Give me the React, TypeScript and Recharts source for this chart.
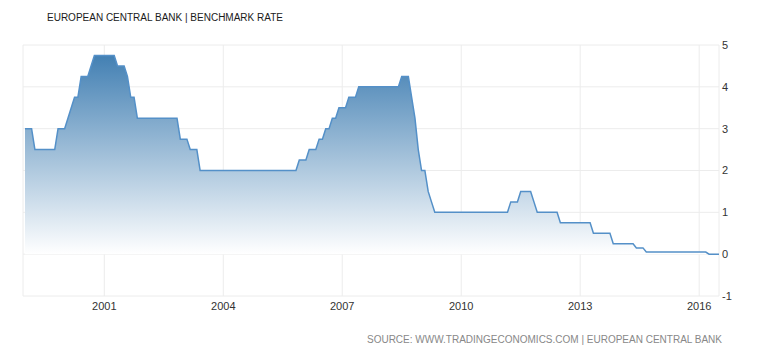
import React from "react";
import { AreaChart, Area, XAxis, YAxis, CartesianGrid } from "recharts";

// End-of-month ECB main refinancing rate (%), one array per year, Jan..Dec
const startYear = 1999;
const rates1999 = [3, 3, 3, 2.5, 2.5, 2.5, 2.5, 2.5, 2.5, 2.5, 3, 3];
const rates2000 = [3, 3.25, 3.5, 3.75, 3.75, 4.25, 4.25, 4.25, 4.5, 4.75, 4.75, 4.75];
const rates2001 = [4.75, 4.75, 4.75, 4.75, 4.5, 4.5, 4.5, 4.25, 3.75, 3.75, 3.25, 3.25];
const rates2002 = [3.25, 3.25, 3.25, 3.25, 3.25, 3.25, 3.25, 3.25, 3.25, 3.25, 3.25, 2.75];
const rates2003 = [2.75, 2.75, 2.5, 2.5, 2.5, 2, 2, 2, 2, 2, 2, 2];
const rates2004 = [2, 2, 2, 2, 2, 2, 2, 2, 2, 2, 2, 2];
const rates2005 = [2, 2, 2, 2, 2, 2, 2, 2, 2, 2, 2, 2.25];
const rates2006 = [2.25, 2.25, 2.5, 2.5, 2.5, 2.75, 2.75, 3, 3, 3.25, 3.25, 3.5];
const rates2007 = [3.5, 3.5, 3.75, 3.75, 3.75, 4, 4, 4, 4, 4, 4, 4];
const rates2008 = [4, 4, 4, 4, 4, 4, 4.25, 4.25, 4.25, 3.75, 3.25, 2.5];
const rates2009 = [2, 2, 1.5, 1.25, 1, 1, 1, 1, 1, 1, 1, 1];
const rates2010 = [1, 1, 1, 1, 1, 1, 1, 1, 1, 1, 1, 1];
const rates2011 = [1, 1, 1, 1.25, 1.25, 1.25, 1.5, 1.5, 1.5, 1.5, 1.25, 1];
const rates2012 = [1, 1, 1, 1, 1, 1, 0.75, 0.75, 0.75, 0.75, 0.75, 0.75];
const rates2013 = [0.75, 0.75, 0.75, 0.75, 0.5, 0.5, 0.5, 0.5, 0.5, 0.5, 0.25, 0.25];
const rates2014 = [0.25, 0.25, 0.25, 0.25, 0.25, 0.15, 0.15, 0.15, 0.05, 0.05, 0.05, 0.05];
const rates2015 = [0.05, 0.05, 0.05, 0.05, 0.05, 0.05, 0.05, 0.05, 0.05, 0.05, 0.05, 0.05];
const rates2016 = [0.05, 0.05, 0.05, 0, 0, 0, 0];

const yearlyRates = [
  rates1999, rates2000, rates2001, rates2002, rates2003, rates2004,
  rates2005, rates2006, rates2007, rates2008, rates2009, rates2010,
  rates2011, rates2012, rates2013, rates2014, rates2015, rates2016,
];

const xTicks = [2001, 2004, 2007, 2010, 2013, 2016];
const yTicks = [-1, 0, 1, 2, 3, 4, 5];

const titleText = "EUROPEAN CENTRAL BANK | BENCHMARK RATE";
const sourceText = "SOURCE: WWW.TRADINGECONOMICS.COM | EUROPEAN CENTRAL BANK";

const data = yearlyRates.flatMap((arr, yi) =>
  arr.map((v, m) => ({ t: startYear + yi + m / 12, rate: v }))
);

const FONT = "'Liberation Sans', Arial, sans-serif";

export default function App() {
  return (
    <div style={{ position: "absolute", left: 0, top: 0, width: 768, height: 358, background: "#fff" }}>
      <AreaChart
        width={768}
        height={358}
        data={data}
        margin={{ top: 45, right: 9, bottom: 32, left: 23 }}
      >
        <defs>
          <linearGradient id="rateFill" x1="0" y1="0" x2="0" y2="1">
            <stop offset="0%" stopColor="#4380b3" stopOpacity={1} />
            <stop offset="100%" stopColor="#ffffff" stopOpacity={1} />
          </linearGradient>
        </defs>
        <CartesianGrid stroke="#ececec" strokeWidth={1} />
        <XAxis
          dataKey="t"
          type="number"
          domain={[1998.95, 2016.5]}
          ticks={xTicks}
          axisLine={false}
          tickLine={false}
          tickSize={0}
          tickMargin={6}
          height={30}
          tick={{ fontSize: 11, fill: "#333", fontFamily: FONT }}
          allowDataOverflow
        />
        <YAxis
          orientation="right"
          type="number"
          domain={[-1, 5]}
          ticks={yTicks}
          axisLine={false}
          tickLine={false}
          tickSize={0}
          tickMargin={3}
          width={40}
          tick={{ fontSize: 11, fill: "#333", fontFamily: FONT }}
        />
        <Area
          type="linear"
          dataKey="rate"
          baseValue={0}
          stroke="#5490c8"
          strokeWidth={1.5}
          fill="url(#rateFill)"
          fillOpacity={1}
          isAnimationActive={false}
          dot={false}
          activeDot={false}
        />
      </AreaChart>
      <div
        style={{
          position: "absolute",
          left: 47,
          top: 13,
          fontFamily: FONT,
          fontSize: 10,
          lineHeight: "10px",
          color: "#1a1a1a",
          whiteSpace: "nowrap",
        }}
      >
        {titleText}
      </div>
      <div
        style={{
          position: "absolute",
          right: 46,
          top: 335,
          fontFamily: FONT,
          fontSize: 10,
          lineHeight: "10px",
          color: "#888",
          whiteSpace: "nowrap",
          textAlign: "right",
        }}
      >
        {sourceText}
      </div>
    </div>
  );
}
